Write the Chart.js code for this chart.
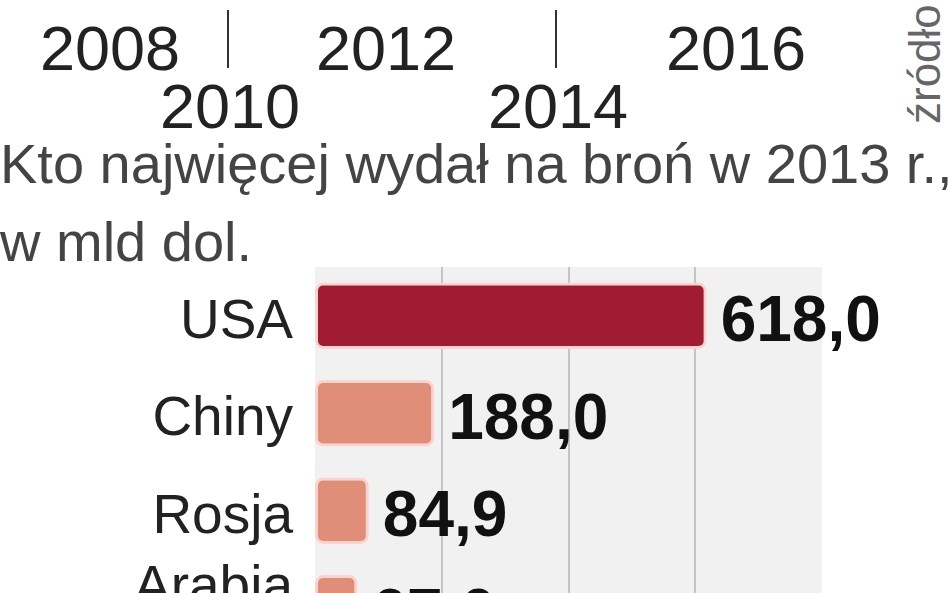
<!DOCTYPE html>
<html>
<head>
<meta charset="utf-8">
<script src="https://cdn.jsdelivr.net/npm/chart.js@4"></script>
<style>
  html, body { margin: 0; padding: 0; background: #fff; overflow: hidden; }
  body { width: 948px; height: 593px; position: relative; font-family: 'Liberation Sans', Arial, sans-serif; }
  .year { position: absolute; font-size: 63px; color: #222; line-height: 1; transform: translateX(-50%); }
  .tick { position: absolute; width: 2px; background: #333; }
  .title { position: absolute; left: 0; color: #444; font-size: 56px; line-height: 1; white-space: nowrap; }
  .source { position: absolute; transform-origin: 0 0; transform: rotate(-90deg); font-size: 44px; color: #666; line-height: 1; white-space: nowrap; }
  #wrap { position: absolute; left: 0; top: 267px; width: 948px; height: 390px; }
</style>
</head>
<body>
<div id="years"></div>
<div class="title" style="top:136px">Kto najwięcej wydał na broń w 2013 r.,</div>
<div class="title" style="top:214px">w mld dol.</div>
<div class="source" style="top:124px;left:903px">źródło</div>
<div id="wrap"><canvas id="spendChart"></canvas></div>
<script>
// Year strip (cut from the chart above)
const yearLabels = ['2008', '2010', '2012', '2014', '2016'];

// Military spending 2013, bln USD
const countries = ['USA', 'Chiny', 'Rosja', ['Arabia', 'Saudyjska']];
const spending = [618.0, 188.0, 84.9, 67.0];
const valueLabels = ['618,0', '188,0', '84,9', '67,0'];
const gridTicks = [200, 400, 600];

// staggered year row layout
const yearPos = [[110, 22], [230, 80], [386, 22], [558, 80], [736, 22]];
const yearsDiv = document.getElementById('years');
yearLabels.forEach((y, i) => {
    const el = document.createElement('div');
    el.className = 'year';
    el.textContent = y;
    el.style.left = yearPos[i][0] + 'px';
    el.style.top = (yearPos[i][1] - 5) + 'px';
    yearsDiv.appendChild(el);
});
[228, 556].forEach(x => {
    const t = document.createElement('div');
    t.className = 'tick';
    t.style.left = (x - 1) + 'px';
    t.style.top = '10px';
    t.style.height = '58px';
    yearsDiv.appendChild(t);
});

// grey panel + vertical gridlines behind the bars
const panelBg = {
    id: 'panelBg',
    beforeDatasetsDraw(chart) {
        const { ctx, chartArea, scales } = chart;
        ctx.save();
        ctx.fillStyle = '#f1f1f1';
        ctx.fillRect(chartArea.left, chartArea.top, chartArea.right - chartArea.left, chartArea.bottom - chartArea.top);
        ctx.strokeStyle = '#c4c4c4';
        ctx.lineWidth = 2;
        gridTicks.forEach(v => {
            const x = Math.round(scales.x.getPixelForValue(v));
            ctx.beginPath();
            ctx.moveTo(x, chartArea.top);
            ctx.lineTo(x, chartArea.bottom);
            ctx.stroke();
        });
        ctx.restore();
    }
};

const valueText = {
    id: 'valueText',
    afterDatasetsDraw(chart) {
        const { ctx } = chart;
        const meta = chart.getDatasetMeta(0);
        ctx.save();
        ctx.font = 'bold 64px "Liberation Sans", Arial, sans-serif';
        ctx.fillStyle = '#111';
        ctx.textBaseline = 'middle';
        meta.data.forEach((bar, i) => {
            ctx.fillText(valueLabels[i], bar.x + 14, bar.y + 8);
        });
        ctx.restore();
    }
};

new Chart(document.getElementById('spendChart'), {
    type: 'bar',
    data: {
        labels: countries,
        datasets: [{
            data: spending,
            backgroundColor: ['#a11c32', '#e08e78', '#e08e78', '#e08e78'],
            borderColor: '#f8d3d0',
            borderWidth: 3,
            borderRadius: 8,
            borderSkipped: false,
            categoryPercentage: 0.68,
            barPercentage: 1
        }]
    },
    options: {
        indexAxis: 'y',
        responsive: true,
        maintainAspectRatio: false,
        animation: false,
        layout: { padding: { left: 0, top: 0, bottom: 0, right: 126 } },
        scales: {
            x: {
                display: false,
                min: 0,
                max: 800
            },
            y: {
                ticks: {
                    autoSkip: false,
                    color: '#222',
                    padding: 14,
                    labelOffset: 7,
                    font: { family: "'Liberation Sans', Arial, sans-serif", size: 55, lineHeight: 0.95 }
                },
                grid: { display: false },
                border: { display: false },
                afterFit: scale => {
                    scale.width = 315;
                    scale.paddingTop = 0;
                    scale.paddingBottom = 0;
                }
            }
        },
        plugins: {
            legend: { display: false },
            tooltip: { enabled: false }
        }
    },
    plugins: [panelBg, valueText]
});
</script>
</body>
</html>
